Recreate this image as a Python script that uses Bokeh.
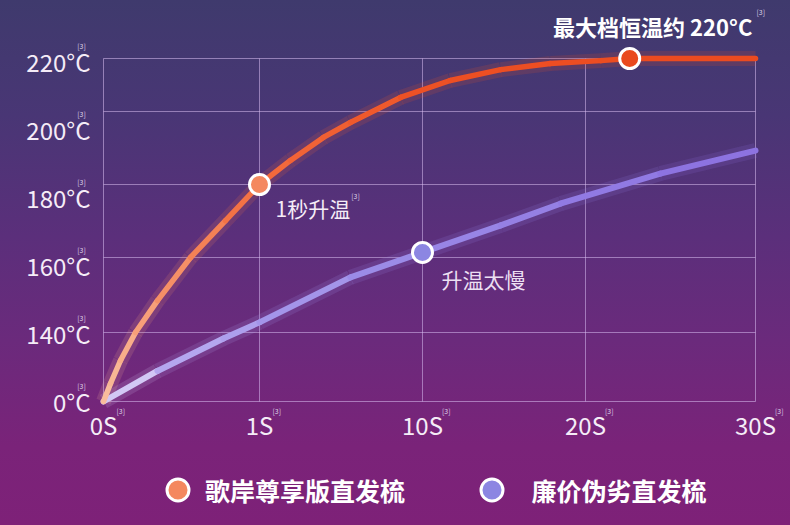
import numpy as np
from bokeh.plotting import figure
from bokeh.models import (Range1d, ColumnDataSource, LabelSet, Label, Legend, LegendItem)
from bokeh.core.properties import value
from bokeh.embed import file_html
from bokeh.resources import INLINE

# ---- data -------------------------------------------------------------
time_ticks = [0, 1, 10, 20, 30]                      # seconds
time_labels = ["0S", "1S", "10S", "20S", "30S"]
temp_ticks = [0, 140, 160, 180, 200, 220]            # °C
temp_labels = ["0°C", "140°C", "160°C", "180°C", "200°C", "220°C"]

# premium comb: heat-up curve
premium_t = [0, 0.045, 0.109, 0.205, 0.346, 0.558, 0.782, 1.0, 2.71, 4.53,
             6.02, 8.79, 11.7, 14.8, 17.85, 20.9, 22.6, 30]
premium_temp = [0, 36.5, 83.2, 140, 148.5, 160, 170.1, 180, 186.6, 192.9,
                197.0, 205.3, 211.7, 215.8, 218.1, 219.2, 220, 220]

# cheap comb: heat-up curve
cheap_t = [0, 0.346, 0.769, 1.0, 6.02, 10, 14.8, 18.5, 24.4, 30]
cheap_temp = [0, 62, 127.8, 142.7, 154.7, 161.4, 168.8, 174.8, 183.0, 189.3]

# highlighted points
premium_mark_t = [1, 22.6]
premium_mark_temp = [180, 220]
cheap_mark_t = [10]
cheap_mark_temp = [161.4]

series_names = ["歌岸尊享版直发梳", "\u2002廉价伪劣直发梳"]
note_fast = "1秒升温"
note_slow = "升温太慢"
note_max = "最大档恒温约 220°C"
footnote = "[3]"

# ---- broken-axis layout (plot units along each axis) -----------------
# chart area spans x 0..4 and y 0..5; the canvas extends past it on all sides
X_TICK_POS = [0, 0.957, 1.957, 2.957, 4.0]
Y_GRID_POS = [0, 1.006, 2.099, 3.163, 4.227, 5.0]
Y_LABEL_POS = [0, 0.99, 1.98, 2.97, 3.96, 4.95]
X_LABEL_ROW = -0.335      # baseline row of the time labels
Y_LABEL_COL = -0.08       # right edge of the temperature labels

FONT = "Noto Sans CJK SC"
TXT = "#f5ecf7"
GRID = "#d9bdf0"


def tx(t):
    return np.interp(t, time_ticks, X_TICK_POS)


def ty(c):
    return np.interp(c, temp_ticks, Y_GRID_POS)


def ramp(pos, stops):
    """Colour along the line, interpolated between (position, hex) stops."""
    sp = [s[0] for s in stops]
    rgb = np.array([[int(h[i:i + 2], 16) for i in (1, 3, 5)] for _, h in stops], float)
    out = []
    for p_ in pos:
        c = [np.interp(p_, sp, rgb[:, k]) for k in range(3)]
        out.append("#%02x%02x%02x" % tuple(int(round(v)) for v in c))
    return out


def seg_source(xs, ys, stops):
    xs, ys = np.asarray(xs), np.asarray(ys)
    mid = (xs[:-1] + xs[1:]) / 2
    return ColumnDataSource(dict(x0=xs[:-1], y0=ys[:-1], x1=xs[1:], y1=ys[1:],
                                 color=ramp(mid, stops)))


# 790 x 525 canvas; chart area sits at px 103..755 horizontally, 58..401 vertically
p = figure(x_range=Range1d(-103 / 163, 687 / 163),
           y_range=Range1d(-124 / 68.6, 5 + 58 / 68.6),
           width=790, height=525, min_border=0,
           output_backend="svg", toolbar_location=None)
p.axis.visible = False
p.grid.visible = False
p.outline_line_color = None
p.styles = {"background": "linear-gradient(180deg, #3f3a6d 0%, #493675 22%, #5b2f7b 45%, "
                          "#6b2a7c 65%, #7a2379 85%, #7e2178 100%)"}
p.background_fill_alpha = 0
p.border_fill_alpha = 0

# grid lines of the broken axes
n_x, n_y = len(X_TICK_POS), len(Y_GRID_POS)
p.segment(x0=X_TICK_POS, y0=[0] * n_x, x1=X_TICK_POS, y1=[Y_GRID_POS[-1]] * n_x,
          line_color=GRID, line_alpha=0.55, line_width=1)
p.segment(x0=[0] * n_y, y0=Y_GRID_POS, x1=[X_TICK_POS[-1]] * n_y, y1=Y_GRID_POS,
          line_color=GRID, line_alpha=0.55, line_width=1)

# tick labels
p.text(x=X_TICK_POS, y=[X_LABEL_ROW] * n_x, text=time_labels,
       text_font=value(FONT), text_font_size=value("24px"), text_color=TXT,
       text_align="center", text_baseline="middle")
p.text(x=[Y_LABEL_COL] * n_y, y=Y_LABEL_POS, text=temp_labels,
       text_font=value(FONT), text_font_size=value("24px"), text_color=TXT,
       text_align="right", text_baseline="middle")

# curves
orange_stops = [(0.0, "#f9bf9f"), (0.35, "#f6956c"), (0.957, "#f26b3d"),
                (2.0, "#ed5024"), (4.0, "#ea4a1f")]
purple_stops = [(0.0, "#e0d8f8"), (0.5, "#b5a8ef"), (1.5, "#9d8ee8"), (4.0, "#8b6fe0")]

po_x, po_y = tx(premium_t), ty(premium_temp)
pu_x, pu_y = tx(cheap_t), ty(cheap_temp)

src_o = seg_source(po_x, po_y, orange_stops)
src_p = seg_source(pu_x, pu_y, purple_stops)

# soft glow under each curve
p.segment("x0", "y0", "x1", "y1", source=src_p, line_color="color",
          line_width=15, line_alpha=0.16, line_cap="butt")
p.segment("x0", "y0", "x1", "y1", source=src_o, line_color="color",
          line_width=15, line_alpha=0.16, line_cap="butt")
p.segment("x0", "y0", "x1", "y1", source=src_p, line_color="color",
          line_width=6, line_cap="round")
p.segment("x0", "y0", "x1", "y1", source=src_o, line_color="color",
          line_width=5.5, line_cap="round")

# markers
mk_o = p.scatter(tx(premium_mark_t), ty(premium_mark_temp), size=20,
                 fill_color=["#f4885f", "#e9491e"], line_color="white", line_width=3)
mk_p = p.scatter(tx(cheap_mark_t), ty(cheap_mark_temp), size=20,
                 fill_color="#8c86e2", line_color="white", line_width=3)

# notes next to the markers
p.add_layout(Label(x=tx(premium_mark_t[0]), y=ty(premium_mark_temp[0]),
                   x_offset=16, y_offset=-23, text=note_fast,
                   text_font=FONT, text_font_size="21px", text_color=TXT,
                   text_baseline="middle", text_align="left"))
p.add_layout(Label(x=tx(cheap_mark_t[0]), y=ty(cheap_mark_temp[0]),
                   x_offset=19, y_offset=-27, text=note_slow,
                   text_font=FONT, text_font_size="21px", text_color="#ecdff2",
                   text_baseline="middle", text_align="left"))
p.add_layout(Label(x=tx(premium_mark_t[1]), y=ty(premium_mark_temp[1]),
                   x_offset=23, y_offset=33, text=note_max,
                   text_font=FONT, text_font_size="22px", text_color="white",
                   text_font_style="bold", text_baseline="middle", text_align="center"))

# footnote marks
SUP = dict(text_font=value(FONT), text_font_size="7px", text_color="#ddd0e6",
           text_baseline="middle", text_align="center")
ysup = ColumnDataSource(dict(x=[Y_LABEL_COL] * n_y, y=Y_LABEL_POS, t=[footnote] * n_y))
p.add_layout(LabelSet(x="x", y="y", text="t", source=ysup, x_offset=-9, y_offset=16, **SUP))
xsup = ColumnDataSource(dict(x=X_TICK_POS, y=[X_LABEL_ROW] * n_x, t=[footnote] * n_x,
                             xo=[6.6 * len(s) + 4 for s in time_labels]))
p.add_layout(LabelSet(x="x", y="y", text="t", source=xsup, x_offset="xo", y_offset=13, **SUP))
p.add_layout(Label(x=tx(premium_mark_t[0]), y=ty(premium_mark_temp[0]), x_offset=96,
                   y_offset=-11, text=footnote, text_font=FONT, text_font_size="7px",
                   text_color="#ddd0e6", text_baseline="middle", text_align="center"))
p.add_layout(Label(x=tx(premium_mark_t[1]), y=ty(premium_mark_temp[1]), x_offset=131,
                   y_offset=47, text=footnote, text_font=FONT, text_font_size="7px",
                   text_color="#ddd0e6", text_baseline="middle", text_align="center"))

# legend under the chart
legend = Legend(items=[LegendItem(label=series_names[0], renderers=[mk_o], index=0),
                       LegendItem(label=series_names[1], renderers=[mk_p], index=0)],
                orientation="horizontal", location=(150, 8),
                glyph_width=55, glyph_height=55, label_standoff=-12, spacing=59,
                padding=0, margin=0, border_line_alpha=0, background_fill_alpha=0,
                label_text_font=FONT, label_text_font_size="25px",
                label_text_font_style="bold", label_text_color="white")
p.add_layout(legend)

open("out.html", "w").write(file_html(p, INLINE))
